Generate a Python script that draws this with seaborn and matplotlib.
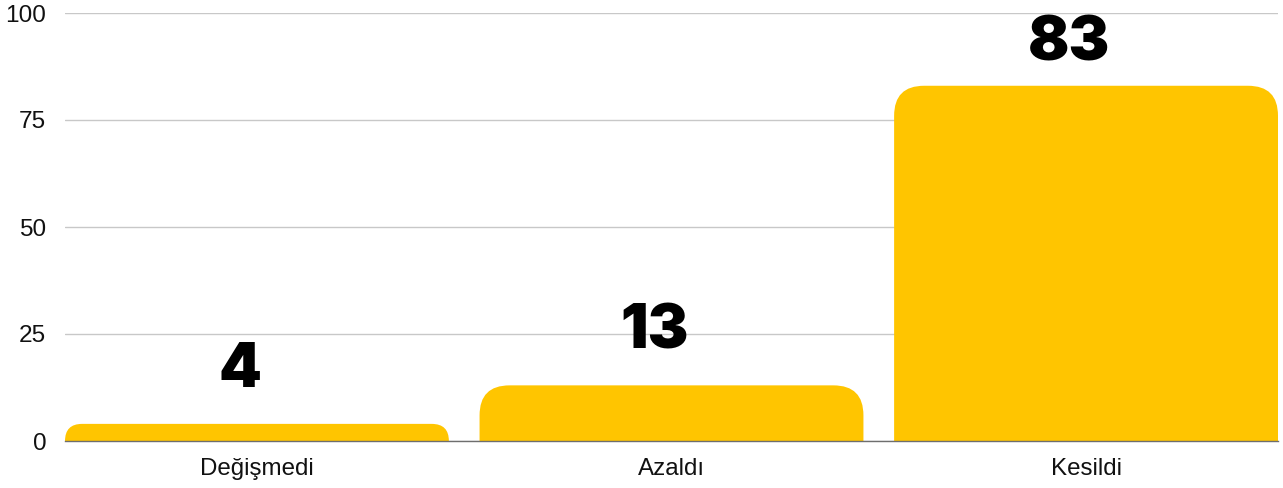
import matplotlib
matplotlib.use("Agg")
import matplotlib.pyplot as plt
import seaborn as sns
import pandas as pd
from matplotlib.patches import FancyBboxPatch
from matplotlib import font_manager as fm

categories = ["Değişmedi", "Azaldı", "Kesildi"]
values = [4, 13, 83]
y_ticks = [0, 25, 50, 75, 100]

BAR_COLOR = "#FFC500"

sns.set_theme(style="white")
plt.rcParams["font.family"] = ["Liberation Sans", "DejaVu Sans"]


def heavy_font():
    for fam, fname in [("Inter", "Inter-Black"), ("Lato", "Lato-Black")]:
        for f in fm.fontManager.ttflist:
            if f.name == fam and fname in f.fname:
                return fm.FontProperties(fname=f.fname)
    return fm.FontProperties(family="DejaVu Sans", weight="bold")


W, H, DPI = 1283, 488, 100
fig = plt.figure(figsize=(W / DPI, H / DPI), dpi=DPI)
ax = fig.add_axes([65 / W, 1 - 441 / H, (1278 - 65) / W, (441 - 13) / H])

df = pd.DataFrame({"cat": categories, "val": values})
bar_w = 0.926
sns.barplot(data=df, x="cat", y="val", color=BAR_COLOR, width=bar_w, ax=ax,
            saturation=1, errorbar=None)

ax.set_xlim(-bar_w / 2, len(categories) - 1 + bar_w / 2)
ax.set_ylim(0, 100)
ax.set_yticks(y_ticks)
ax.set_yticklabels([str(t) for t in y_ticks])
ax.set_xlabel("")
ax.set_ylabel("")

bbox = ax.get_position()
px_per_x = bbox.width * W / (ax.get_xlim()[1] - ax.get_xlim()[0])
px_per_y = bbox.height * H / (ax.get_ylim()[1] - ax.get_ylim()[0])

bars = list(ax.patches)
for p in bars:
    x0, w, h = p.get_x(), p.get_width(), p.get_height()
    p.remove()
    r_px = min(30.0, h * px_per_y)
    r_x = r_px / px_per_x
    r_y = r_px / px_per_y
    fb = FancyBboxPatch((x0, -r_y), w, h + r_y,
                        boxstyle=f"round,pad=0,rounding_size={r_x}",
                        mutation_aspect=r_y / r_x,
                        facecolor=BAR_COLOR, edgecolor="none", zorder=2,
                        clip_on=True)
    ax.add_patch(fb)

ax.grid(axis="y", color="#c8c8c8", linewidth=1, zorder=0)
ax.grid(axis="x", visible=False)
ax.set_axisbelow(True)
for s in ["top", "right", "left"]:
    ax.spines[s].set_visible(False)
ax.spines["bottom"].set_color("#6e6e6e")
ax.spines["bottom"].set_linewidth(1)
ax.spines["bottom"].set_zorder(3)

ax.tick_params(axis="y", length=0, pad=13.5, labelsize=17.6, labelcolor="#111111")
ax.tick_params(axis="x", length=0, pad=12.5, labelsize=17.4, labelcolor="#111111")

fp = heavy_font()
fp.set_size(44)
off_units = 37 / px_per_y
dx = -17 / px_per_x
for i, v in enumerate(values):
    ty = min(v + off_units, 89.0)
    ax.text(i + dx, ty, str(v), ha="center", va="baseline",
            fontproperties=fp, color="#000000", zorder=4, clip_on=False)

fig.savefig("out.png", dpi=DPI, facecolor="white")
